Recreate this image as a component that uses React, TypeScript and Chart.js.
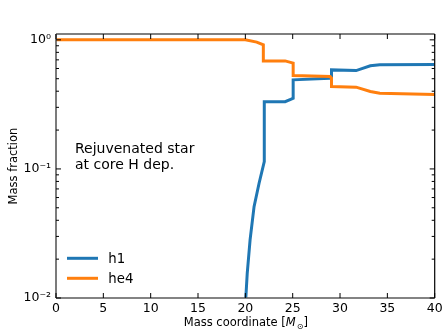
import React, { useEffect, useRef } from "react";
import { Chart, registerables } from "chart.js";

Chart.register(...registerables);

// ---- data ----
const h1X = [20.03, 20.2, 20.5, 20.92, 21.45, 22.0, 22.0, 24.2, 24.85, 25.05, 25.05, 28.95, 29.1, 29.1, 31.7, 33.2, 34.2, 40];
const h1Y = [0.0095, 0.0156, 0.0282, 0.051, 0.0775, 0.114, 0.332, 0.332, 0.348, 0.353, 0.49, 0.505, 0.505, 0.585, 0.578, 0.63, 0.64, 0.645];

const he4X = [0, 20.0, 21.2, 21.9, 21.9, 24.2, 25.05, 25.05, 28.95, 29.1, 29.1, 31.7, 33.2, 34.2, 40];
const he4Y = [1.0, 1.0, 0.96, 0.915, 0.687, 0.687, 0.66, 0.529, 0.52, 0.505, 0.435, 0.43, 0.398, 0.386, 0.377];

const seriesLabels = ["h1", "he4"];
const seriesColors = ["#1f77b4", "#ff7f0e"];

const xTickValues = [0, 5, 10, 15, 20, 25, 30, 35, 40];
const yMajorValues = [0.01, 0.1, 1];
const yTickLabels = ["10⁻²", "10⁻¹", "10⁰"];
const yMinorMultipliers = [2, 3, 4, 5, 6, 7, 8, 9];

const annotationLines = ["Rejuvenated star", "at core H dep."];
const yTitle = "Mass fraction";
const xTitleParts = ["Mass coordinate [", "M", "⊙", "]"];

const FONT = "'DejaVu Sans', 'Liberation Sans', sans-serif";

const decorPlugin = {
  id: "decor",
  afterDraw(chart: any) {
    const ctx: CanvasRenderingContext2D = chart.ctx;
    const { left, right, top, bottom } = chart.chartArea;
    const xs = chart.scales.x;
    const ys = chart.scales.y;
    const line = (x1: number, y1: number, x2: number, y2: number) => {
      ctx.beginPath();
      ctx.moveTo(x1, y1);
      ctx.lineTo(x2, y2);
      ctx.stroke();
    };
    ctx.save();

    // spines
    ctx.lineWidth = 1.2;
    ctx.strokeStyle = "#000";
    line(left, top, right, top);
    line(right, top, right, bottom);
    ctx.strokeStyle = "#5a5a5a";
    ctx.lineWidth = 1.6;
    line(left, top, left, bottom);
    line(left, bottom, right, bottom);

    // ticks (inward, mirrored)
    ctx.strokeStyle = "#000";
    ctx.lineWidth = 1;
    for (const v of xTickValues) {
      const px = xs.getPixelForValue(v);
      line(px, bottom, px, bottom - 5);
      line(px, top, px, top + 5);
    }
    for (const v of yMajorValues) {
      const py = ys.getPixelForValue(v);
      if (py < top - 0.5 || py > bottom + 0.5) continue;
      line(left, py, left + 5, py);
      line(right, py, right - 5, py);
    }
    for (const d of yMajorValues) {
      for (const m of yMinorMultipliers) {
        const v = d * m;
        if (v > ys.max || v < ys.min) continue;
        const py = ys.getPixelForValue(v);
        line(left, py, left + 3, py);
        line(right, py, right - 3, py);
      }
    }

    // annotation text
    ctx.fillStyle = "#000";
    ctx.font = `14px ${FONT}`;
    ctx.textAlign = "left";
    ctx.textBaseline = "alphabetic";
    ctx.fillText(annotationLines[0], 75, 153);
    ctx.fillText(annotationLines[1], 75, 168.5);

    // legend
    const ds = chart.data.datasets;
    ctx.font = `13.3px ${FONT}`;
    for (let i = 0; i < ds.length; i++) {
      const ly = 258.3 + i * 20;
      ctx.strokeStyle = ds[i].borderColor;
      ctx.lineWidth = 3;
      ctx.lineCap = "butt";
      line(67, ly, 98, ly);
      ctx.fillStyle = "#000";
      ctx.fillText(ds[i].label, 108.3, ly + 5);
    }

    // y title
    ctx.save();
    ctx.translate(14.5, (top + bottom) / 2);
    ctx.rotate(-Math.PI / 2);
    ctx.font = `11.5px ${FONT}`;
    ctx.textAlign = "center";
    ctx.textBaseline = "middle";
    ctx.fillText(yTitle, 0, 0);
    ctx.restore();

    // x title with mixed fonts
    const fonts = [
      `11.5px ${FONT}`,
      `italic 11.5px ${FONT}`,
      `8px ${FONT}`,
      `11.5px ${FONT}`,
    ];
    const dys = [0, 0, 2.5, 0];
    let total = 0;
    const widths: number[] = [];
    for (let i = 0; i < xTitleParts.length; i++) {
      ctx.font = fonts[i];
      const w = ctx.measureText(xTitleParts[i]).width;
      widths.push(w);
      total += w;
    }
    let cx = (left + right) / 2 - total / 2;
    ctx.textAlign = "left";
    ctx.textBaseline = "alphabetic";
    for (let i = 0; i < xTitleParts.length; i++) {
      ctx.font = fonts[i];
      ctx.fillText(xTitleParts[i], cx, 326 + dys[i]);
      cx += widths[i] + (i === 1 ? 1 : 0);
    }

    ctx.restore();
  },
};

export default function App() {
  const ref = useRef<HTMLCanvasElement | null>(null);

  useEffect(() => {
    if (!ref.current) return;
    const chart = new Chart(ref.current, {
      type: "line",
      data: {
        datasets: [
          {
            label: seriesLabels[0],
            data: h1X.map((x, i) => ({ x, y: h1Y[i] })),
            borderColor: seriesColors[0],
            backgroundColor: seriesColors[0],
            borderWidth: 3,
            pointRadius: 0,
            tension: 0,
            clip: 0,
            order: 1,
          },
          {
            label: seriesLabels[1],
            data: he4X.map((x, i) => ({ x, y: he4Y[i] })),
            borderColor: seriesColors[1],
            backgroundColor: seriesColors[1],
            borderWidth: 3,
            pointRadius: 0,
            tension: 0,
            clip: 0,
            order: 0,
          },
        ],
      },
      options: {
        animation: false,
        responsive: false,
        devicePixelRatio: 1,
        layout: { padding: { left: 0, top: 34, right: 13.3, bottom: 0 } },
        plugins: {
          legend: { display: false },
          tooltip: { enabled: false },
        },
        scales: {
          x: {
            type: "linear",
            min: 0,
            max: 40,
            grid: { display: false, drawTicks: false },
            border: { display: false },
            ticks: {
              stepSize: 5,
              color: "#000",
              padding: 3,
              maxRotation: 0,
              font: { family: FONT, size: 12.5 },
            },
            afterFit: (scale: any) => {
              scale.height = 38;
            },
          },
          y: {
            type: "logarithmic",
            min: 0.01,
            max: 1.11,
            grid: { display: false, drawTicks: false },
            border: { display: false },
            afterBuildTicks: (scale: any) => {
              scale.ticks = yMajorValues.map((v) => ({ value: v }));
            },
            ticks: {
              color: "#000",
              padding: 5,
              font: { family: FONT, size: 12.5 },
              callback: (value: any) => {
                const idx = yMajorValues.findIndex((v) => Math.abs(v - Number(value)) < 1e-9);
                return idx >= 0 ? yTickLabels[idx] : "";
              },
            },
            afterFit: (scale: any) => {
              scale.width = 56;
            },
          },
        },
      },
      plugins: [decorPlugin],
    } as any);
    return () => chart.destroy();
  }, []);

  return (
    <div style={{ position: "fixed", left: 0, top: 0, width: 448, height: 336, background: "#fff" }}>
      <canvas ref={ref} width={448} height={336} style={{ display: "block" }} />
    </div>
  );
}
